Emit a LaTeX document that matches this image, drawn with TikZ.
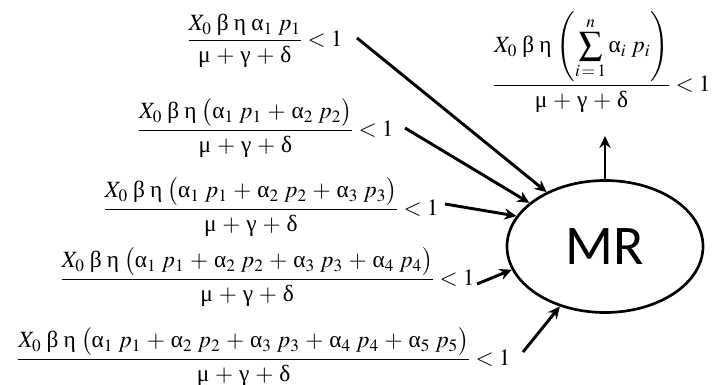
\documentclass[tikz,border=0pt]{standalone}
\usepackage{amsmath}
\usepackage{mathptmx}
\usepackage[no-math]{fontspec}
\setmainfont{Liberation Serif}
\newfontfamily\mrfont{Carlito}
\usetikzlibrary{shapes.geometric,arrows.meta}

% upright greek from the text font
\newcommand{\gra}{\text{α}}
\newcommand{\grb}{\text{β}}
\newcommand{\grh}{\text{η}}
\newcommand{\grm}{\text{μ}}
\newcommand{\grg}{\text{γ}}
\newcommand{\grd}{\text{δ}}
\newcommand{\gap}{\mskip4mu}
\newcommand{\pl}{\mathbin{\mskip2mu+\mskip2mu}}
\newcommand{\den}{\grm\pl\grg\pl\grd}
\newcommand{\pre}{X_0\gap\grb\gap\grh\gap}
\newcommand{\tm}[1]{\gra_{#1}\gap p_{#1}}

\tikzset{every picture/.style={line width=0.75pt}}
\tikzset{
  cond/.style={anchor=east, inner sep=0.75pt, font=\fontsize{17.5}{20}\selectfont},
  link/.style={line width=2.2pt, -{Stealth[length=9pt,width=8.5pt]}},
}

\begin{document}
\begin{tikzpicture}[x=0.75pt,y=0.75pt,yscale=-1,xscale=1]
        \useasboundingbox (0,0) rectangle (713,385);

        \node (mr) at (605,246.5) [ellipse, draw, line width=2pt, minimum width=147pt, minimum height=99pt, inner sep=0pt, font=\mrfont\fontsize{42}{50}\selectfont] {MR};

        \node (f1) at (344,41) [cond] {$\dfrac{\pre\tm1}{\den} < 1$};
        \node (f2) at (395,128) [cond] {$\dfrac{\pre\bigl(\tm1\pl\tm2\bigr)}{\den} < 1$};
        \node (f3) at (440,207) [cond] {$\dfrac{\pre\bigl(\tm1\pl\tm2\pl\tm3\bigr)}{\den} < 1$};
        \node (f4) at (476,277) [cond] {$\dfrac{\pre\bigl(\tm1\pl\tm2\pl\tm3\pl\tm4\bigr)}{\den} < 1$};
        \node (f5) at (512,357) [cond] {$\dfrac{\pre\bigl(\tm1\pl\tm2\pl\tm3\pl\tm4\pl\tm5\bigr)}{\den} < 1$};
        \node (fn) at (712,62) [cond] {$\dfrac{\pre\Biggl(\displaystyle\sum_{i\mkern2mu=\mkern2mu1}^{n}\gra_i\gap p_i\Biggr)}{\den} < 1$};

        \coordinate (s1) at (357,38);
        \coordinate (s2) at (405,128);
        \coordinate (s3) at (445,204);
        \coordinate (s4) at (477,284);
        \coordinate (s5) at (523,352);
        \coordinate (tn) at (605,136);

        \draw [link] (s1) -- (mr.137);
        \draw [link] (s2) -- (mr.150);
        \draw [link] (s3) -- (mr.161);
        \draw [link] (s4) -- (mr.194);
        \draw [link] (s5) -- (mr.233);
        \draw [link] (mr.north) -- (tn);
\end{tikzpicture}
\end{document}
